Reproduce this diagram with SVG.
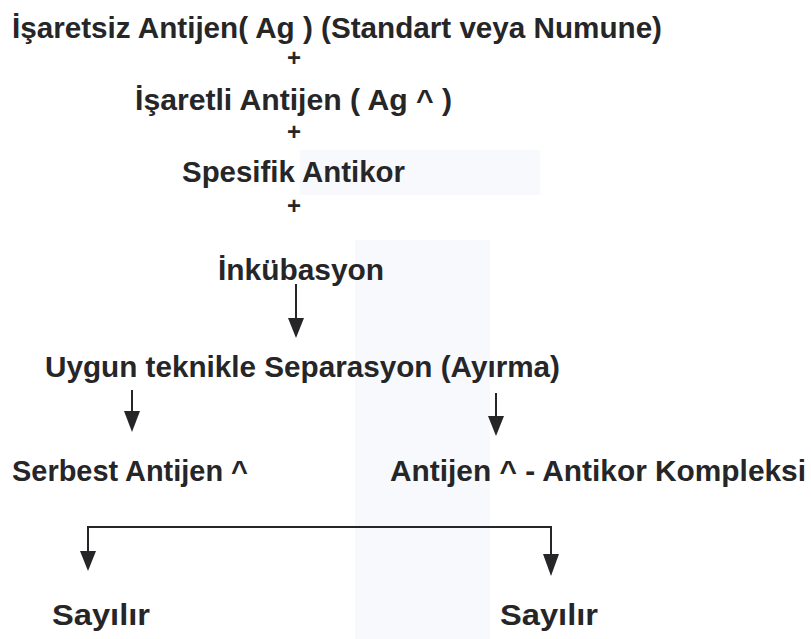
<svg xmlns="http://www.w3.org/2000/svg" width="811" height="639" viewBox="0 0 811 639">
<defs>
<style>
.t{font-family:"Liberation Sans Narrow","Liberation Sans",Arial,sans-serif;font-weight:bold;font-size:29px;fill:#262628}
.p{font-family:"Liberation Sans",Arial,sans-serif;font-weight:bold;font-size:24px;fill:#262628}
.c{stroke:#262628;stroke-width:2;fill:none}
.a{fill:#262628}
</style>
</defs>
<rect width="811" height="639" fill="#ffffff"/>
<rect x="355" y="240" width="135" height="399" fill="#f7f9fc"/>
<rect x="300" y="150" width="240" height="45" fill="#f8f9fc"/>
<g id="n1"><text class="t" x="12" y="38" textLength="650" lengthAdjust="spacingAndGlyphs">İşaretsiz Antijen( Ag ) (Standart veya Numune)</text></g>
<g id="plus1"><text class="p" x="294" y="66" text-anchor="middle">+</text></g>
<g id="n2"><text class="t" x="135" y="110" textLength="317" lengthAdjust="spacingAndGlyphs">İşaretli Antijen ( Ag ^ )</text></g>
<g id="plus2"><text class="p" x="294" y="140" text-anchor="middle">+</text></g>
<g id="n3"><text class="t" x="182" y="182" textLength="223" lengthAdjust="spacingAndGlyphs">Spesifik Antikor</text></g>
<g id="plus3"><text class="p" x="294" y="214" text-anchor="middle">+</text></g>
<g id="n4"><text class="t" x="218" y="280" textLength="166" lengthAdjust="spacingAndGlyphs">İnkübasyon</text></g>
<g id="n5"><text class="t" x="45" y="377" textLength="515" lengthAdjust="spacingAndGlyphs">Uygun teknikle Separasyon (Ayırma)</text></g>
<g id="n6"><text class="t" x="12" y="481" textLength="236" lengthAdjust="spacingAndGlyphs">Serbest Antijen ^</text></g>
<g id="n7"><text class="t" x="390" y="481" textLength="416" lengthAdjust="spacingAndGlyphs">Antijen ^ - Antikor Kompleksi</text></g>
<g id="n8"><text class="t" x="52" y="625" textLength="98" lengthAdjust="spacingAndGlyphs">Sayılır</text></g>
<g id="n9"><text class="t" x="500" y="625" textLength="98" lengthAdjust="spacingAndGlyphs">Sayılır</text></g>
<g id="connectors">
<path class="c" d="M296,284 V320"/><path class="a" d="M288,318 L304,318 L296,338 Z"/>
<path class="c" d="M132,390 V413"/><path class="a" d="M124,411 L140,411 L132,432 Z"/>
<path class="c" d="M496,393 V418"/><path class="a" d="M488,416 L504,416 L496,436 Z"/>
<path class="c" d="M88,568 V527 H551 V570"/>
<path class="a" d="M80,551 L96,551 L88,571 Z"/>
<path class="a" d="M543,554 L559,554 L551,576 Z"/>
</g>
</svg>
